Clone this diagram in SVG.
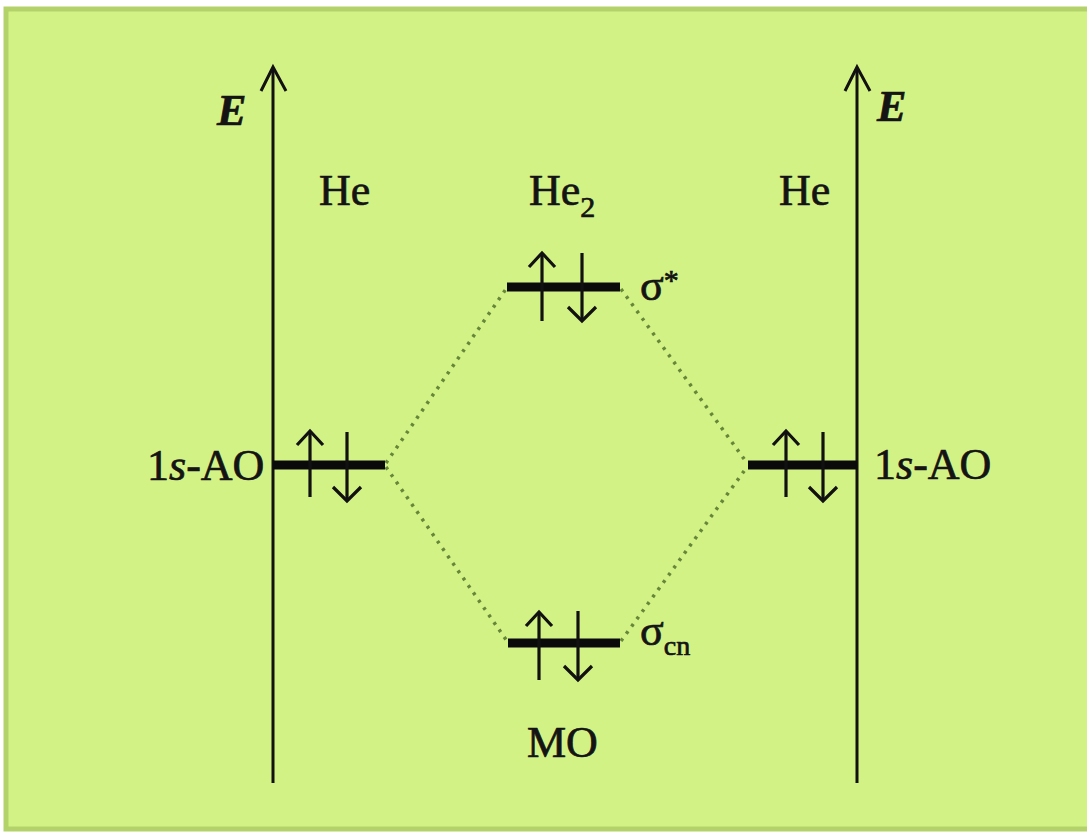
<svg xmlns="http://www.w3.org/2000/svg" width="1087" height="833" viewBox="0 0 1087 833">
<style>
.t{font-family:"Liberation Serif","Times New Roman",serif;font-size:44px;fill:#141414;stroke:#141414;stroke-width:0.7}
.ax{stroke:#111;stroke-width:3;fill:none}
.lvl{stroke:#0a0a0a;stroke-width:9;fill:none}
.sp{stroke:#111;stroke-width:3.2;fill:none}
.dot{stroke:#66863a;stroke-width:3.5;stroke-dasharray:3 6;fill:none}
</style>
<rect x="0" y="0" width="1087" height="833" fill="#ffffff"/>
<rect x="6" y="9" width="1085" height="820" fill="#d3f285" stroke="#b3d26a" stroke-width="5"/>

<g id="connectors">
<line class="dot" x1="386" y1="463" x2="506" y2="289"/>
<line class="dot" x1="386" y1="467" x2="507" y2="641"/>
<line class="dot" x1="621" y1="289" x2="747" y2="463"/>
<line class="dot" x1="621" y1="641" x2="747" y2="467"/>
</g>

<g id="axis-left">
<line class="ax" x1="273" y1="783" x2="273" y2="68"/>
<polyline class="ax" points="261,91 273,67 286,91"/>
<text class="t" x="217" y="125" font-style="italic" font-weight="bold">E</text>
</g>
<g id="axis-right">
<line class="ax" x1="857" y1="783" x2="857" y2="68"/>
<polyline class="ax" points="845,91 857,67 870,91"/>
<text class="t" x="877" y="121" font-style="italic" font-weight="bold">E</text>
</g>

<g id="label-he-left"><text class="t" x="319" y="205">He</text></g>
<g id="label-he2"><text class="t" x="529" y="205">He<tspan font-size="30" dy="12">2</tspan></text></g>
<g id="label-he-right"><text class="t" x="779" y="205">He</text></g>

<g id="ao-left">
<line class="lvl" x1="273" y1="465" x2="385" y2="465"/>
<line class="sp" x1="310" y1="497" x2="310" y2="432"/>
<polyline class="sp" points="297,445 310,431 323,445"/>
<line class="sp" x1="347" y1="432" x2="347" y2="500"/>
<polyline class="sp" points="333,487 347,501 361,487"/>
<text class="t" x="147" y="480">1<tspan font-style="italic">s</tspan>-AO</text>
</g>

<g id="ao-right">
<line class="lvl" x1="748" y1="465" x2="857" y2="465"/>
<line class="sp" x1="786" y1="497" x2="786" y2="432"/>
<polyline class="sp" points="773,445 786,431 799,445"/>
<line class="sp" x1="823" y1="432" x2="823" y2="500"/>
<polyline class="sp" points="809,487 823,501 837,487"/>
<text class="t" x="874" y="479">1<tspan font-style="italic">s</tspan>-AO</text>
</g>

<g id="mo-sigma-star">
<line class="lvl" x1="507" y1="287" x2="620" y2="287"/>
<line class="sp" x1="542" y1="321" x2="542" y2="254"/>
<polyline class="sp" points="529,267 542,253 555,267"/>
<line class="sp" x1="582" y1="253" x2="582" y2="320"/>
<polyline class="sp" points="568,307 582,321 596,307"/>
<text class="t" x="640" y="300" font-size="38">σ<tspan font-size="30" dy="-10">*</tspan></text>
</g>

<g id="mo-sigma-cn">
<line class="lvl" x1="508" y1="643" x2="620" y2="643"/>
<line class="sp" x1="539" y1="680" x2="539" y2="613" stroke="#4f6a22"/>
<polyline class="sp" points="526,626 539,612 552,626" stroke="#3a4a1a"/>
<line class="sp" x1="578" y1="611" x2="578" y2="679"/>
<polyline class="sp" points="564,666 578,680 592,666"/>
<text class="t" x="640" y="645" font-size="38">σ<tspan font-size="28" dy="10">cn</tspan></text>
</g>

<g id="label-mo"><text class="t" x="527" y="757">MO</text></g>
</svg>
